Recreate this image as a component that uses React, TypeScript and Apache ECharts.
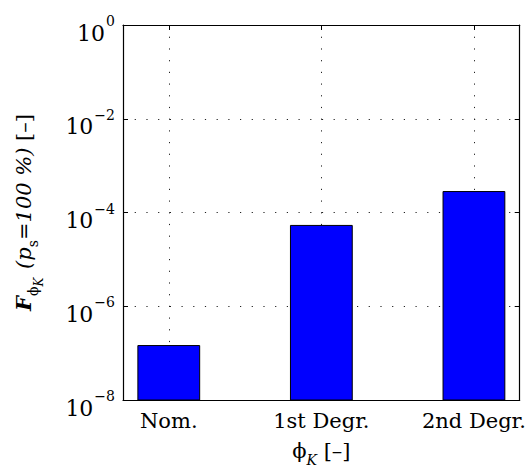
import React, { useEffect, useRef } from "react";
import * as echarts from "echarts";

const categories = ["Nom.", "1st Degr.", "2nd Degr."];
const positions = [1, 2, 3];
const values = [1.45e-7, 5.3e-5, 2.8e-4];
const yMin = 1e-8;
const yMax = 1;
const barWidthUnits = 0.405;

const FONT = "DejaVu Serif";

export default function App() {
  const ref = useRef<HTMLDivElement>(null);
  useEffect(() => {
    if (!ref.current) return;
    const chart = echarts.init(ref.current, null, { renderer: "svg" });
    const gridLine = { show: true, lineStyle: { color: "#222", width: 1, type: [1.2, 10.5] as any } };
    const axisLine = { show: true, onZero: false, lineStyle: { color: "#000", width: 1.2 } };
    const yLabelRich = {
      b: { fontFamily: FONT, fontSize: 22, color: "#000", lineHeight: 22, verticalAlign: "top", padding: [8, 0, 0, 0] },
      e: { fontFamily: FONT, fontSize: 14, color: "#000", lineHeight: 14, verticalAlign: "top", padding: [0, 0, 0, 1] },
    };
    const main = { fontFamily: FONT, fontSize: 21, color: "#000", lineHeight: 24, verticalAlign: "top" };
    const nameRich = {
      F: { ...main, fontStyle: "italic", fontWeight: "bold" },
      it: { ...main, fontStyle: "italic" },
      n: { ...main },
      sub: { fontFamily: FONT, fontSize: 14, color: "#000", lineHeight: 14, verticalAlign: "top", padding: [13, 0, 0, 0] },
      subit: { fontFamily: FONT, fontSize: 14, color: "#000", fontStyle: "italic", lineHeight: 14, verticalAlign: "top", padding: [13, 0, 0, 0] },
      subsub: { fontFamily: FONT, fontSize: 12, color: "#000", fontStyle: "italic", lineHeight: 12, verticalAlign: "top", padding: [20, 2, 0, 0] },
    };
    chart.setOption({
      animation: false,
      backgroundColor: "#fff",
      grid: { left: 123, right: 8.5, top: 25, bottom: 72, containLabel: false },
      xAxis: [
        {
          type: "value",
          min: 0.7,
          max: 3.3,
          position: "bottom",
          axisLine,
          axisTick: { show: true, inside: true, length: 5, customValues: positions, lineStyle: { color: "#000" } },
          axisLabel: {
            show: true,
            customValues: positions,
            margin: 10,
            fontFamily: FONT,
            fontSize: 21,
            color: "#000",
            formatter: (v: number) => categories[Math.round(v) - 1] ?? "",
          },
          splitLine: gridLine,
          name: "{n|ϕ}{subit|K}{n| [–]}",
          nameLocation: "middle",
          nameGap: 40,
          nameTextStyle: { rich: nameRich },
        },
        {
          type: "value",
          min: 0.7,
          max: 3.3,
          position: "top",
          axisLine,
          axisTick: { show: true, inside: true, length: 5, customValues: positions, lineStyle: { color: "#000" } },
          axisLabel: { show: false },
          splitLine: { show: false },
        },
      ],
      yAxis: [
        {
          type: "log",
          logBase: 10,
          min: yMin,
          max: yMax,
          interval: 2,
          position: "left",
          axisLine,
          axisTick: { show: true, inside: true, length: 5, lineStyle: { color: "#000" } },
          minorTick: { show: false },
          axisLabel: {
            margin: 8,
            formatter: (v: number) => {
              const e = Math.round(Math.log10(v));
              return `{b|10}{e|${e < 0 ? "−" + -e : e}}`;
            },
            rich: yLabelRich,
          },
          splitLine: gridLine,
          name: "{F|F}{sub|ϕ}{subsub|K}{it| (p}{sub|s}{it|=100 %)}{n| [–]}",
          nameLocation: "middle",
          nameRotate: 90,
          nameGap: 86,
          nameTextStyle: { rich: nameRich },
        },
        {
          type: "log",
          logBase: 10,
          min: yMin,
          max: yMax,
          interval: 2,
          position: "right",
          axisLine,
          axisTick: { show: true, inside: true, length: 5, lineStyle: { color: "#000" } },
          axisLabel: { show: false },
          splitLine: { show: false },
        },
      ],
      series: [
        {
          type: "custom",
          xAxisIndex: 0,
          yAxisIndex: 0,
          data: positions.map((p, i) => [p, values[i]]),
          renderItem: (params: any, api: any) => {
            const x = api.value(0);
            const v = api.value(1);
            const tl = api.coord([x - barWidthUnits / 2, v]);
            const br = api.coord([x + barWidthUnits / 2, yMin]);
            return {
              type: "rect",
              shape: { x: tl[0], y: tl[1], width: br[0] - tl[0], height: br[1] - tl[1] },
              style: { fill: "#0000FF", stroke: "#000", lineWidth: 1 },
            };
          },
        },
      ],
    });
    return () => chart.dispose();
  }, []);
  return <div ref={ref} style={{ width: 529, height: 472, position: "absolute", left: 0, top: 0 }} />;
}
